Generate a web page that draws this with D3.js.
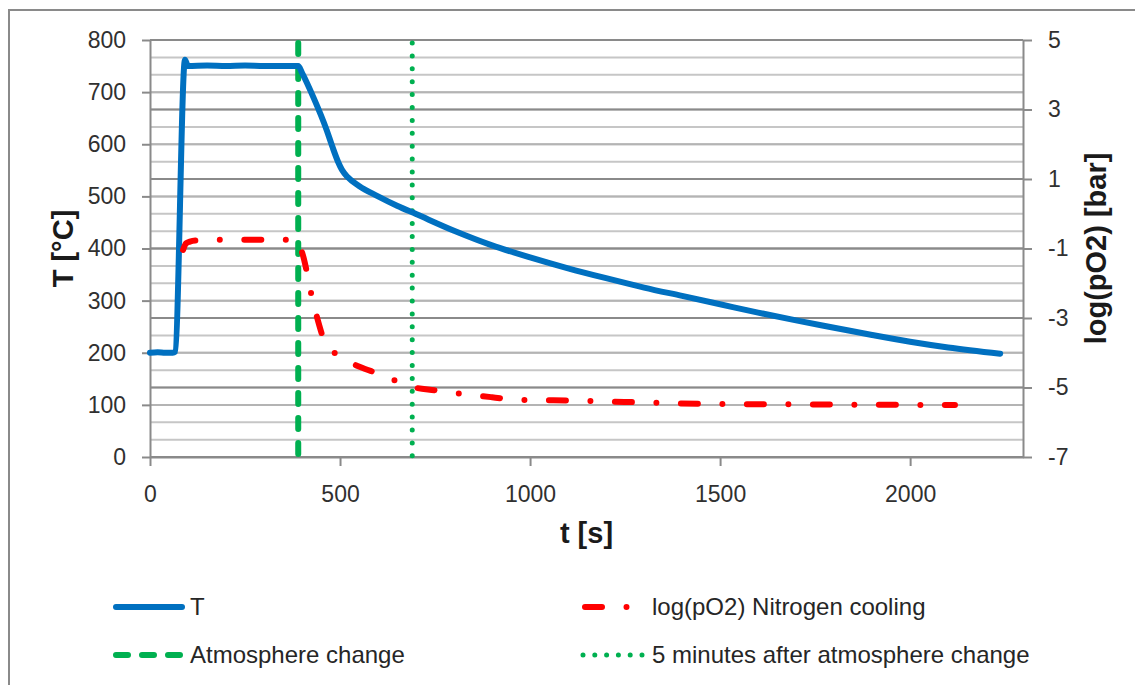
<!DOCTYPE html>
<html lang="en">
<head>
<meta charset="UTF-8">
<title>T and log(pO2) vs time</title>
<script src="https://d3js.org/d3.v7.min.js"></script>
<style>
    body { margin: 0; background: #fff; font-family: "Liberation Sans", Arial, sans-serif; }
    .tick text { fill: #303030; font-size: 23px; }
    .axis-title { font-weight: bold; font-size: 29px; fill: #1a1a1a; }
    .legend-text { font-size: 24px; fill: #262626; }
</style>
</head>
<body>
<div id="chart"></div>
<script>
    // temperature series (time in s, T in °C)
    const tTime = [0, 20, 40, 60, 66, 92, 100, 150, 200, 250, 300, 350, 390, 400, 430, 465, 480, 495, 505, 520, 550, 600, 650, 700, 800, 900, 1000, 1100, 1200, 1300, 1400, 1500, 1600, 1700, 1800, 1900, 2000, 2100, 2237];
    const tValue = [200, 201, 200, 200, 202, 762, 750, 751, 750, 751, 750, 750, 750, 737, 690, 627, 595, 566, 551, 537, 520, 500, 482, 466, 434, 406, 383, 362, 343, 325, 309, 293, 277, 262, 248, 234, 221, 210, 198];

    // log(pO2) series (time in s, log bar)
    const pTime = [87, 95, 105, 120, 200, 300, 385, 395, 405, 415, 426, 440, 460, 480, 500, 553, 600, 636, 692, 750, 803, 900, 974, 1061, 1200, 1300, 1447, 1600, 1800, 2000, 2118];
    const pValue = [-1.04, -0.85, -0.8, -0.77, -0.75, -0.75, -0.75, -0.95, -1.3, -1.8, -2.4, -3.0, -3.69, -3.95, -4.12, -4.41, -4.6, -4.76, -4.99, -5.08, -5.16, -5.28, -5.36, -5.37, -5.4, -5.43, -5.47, -5.48, -5.49, -5.5, -5.5];

    // vertical markers
    const atmosphereChange = 390;
    const fiveMinutesAfter = 690;

    const xTicks = [0, 500, 1000, 1500, 2000];
    const leftTicks = [0, 100, 200, 300, 400, 500, 600, 700, 800];
    const rightTicks = [-7, -5, -3, -1, 1, 3, 5];

    const legendItems = [
        { label: "T", key: "T" },
        { label: "log(pO2) Nitrogen cooling", key: "p" },
        { label: "Atmosphere change", key: "a" },
        { label: "5 minutes after atmosphere change", key: "f" }
    ];

    const width = 1135, height = 685;
    const plotLeft = 150, plotRight = 1023, plotTop = 40, plotBottom = 457;

    const blue = "#0070C0", red = "#FF0000", green = "#00B050";
    const lightGrid = "#c6c6c6", darkGrid = "#8a8a8a";

    const svg = d3.select("#chart").append("svg")
        .attr("width", width)
        .attr("height", height);

    // outer chart border
    svg.append("rect")
        .attr("x", 9).attr("y", 10)
        .attr("width", 1140).attr("height", 700)
        .attr("fill", "#fff")
        .attr("stroke", "#8a8a8a")
        .attr("stroke-width", 2);

    const x = d3.scaleLinear().domain([0, 2297]).range([plotLeft, plotRight]);
    const yL = d3.scaleLinear().domain([0, 800]).range([plotBottom, plotTop]);
    const yR = d3.scaleLinear().domain([-7, 5]).range([plotBottom, plotTop]);

    // gridlines: secondary minor (0.5), primary major (100), secondary major (2)
    const minorR = d3.range(-7, 5.01, 0.5);
    svg.append("g").selectAll("line").data(minorR).join("line")
        .attr("x1", plotLeft).attr("x2", plotRight)
        .attr("y1", d => yR(d)).attr("y2", d => yR(d))
        .attr("stroke", lightGrid).attr("stroke-width", 2);
    svg.append("g").selectAll("line").data(leftTicks).join("line")
        .attr("x1", plotLeft).attr("x2", plotRight)
        .attr("y1", d => yL(d)).attr("y2", d => yL(d))
        .attr("stroke", "#b4b4b4").attr("stroke-width", 2);
    svg.append("g").selectAll("line").data(rightTicks).join("line")
        .attr("x1", plotLeft).attr("x2", plotRight)
        .attr("y1", d => yR(d)).attr("y2", d => yR(d))
        .attr("stroke", darkGrid).attr("stroke-width", 2);

    // axes
    const plain = d => String(d);
    function styleAxis(g) {
        g.select(".domain").attr("stroke", darkGrid).attr("stroke-width", 2);
        g.selectAll(".tick line").attr("stroke", darkGrid).attr("stroke-width", 2);
        g.selectAll(".tick text").attr("font-family", "Liberation Sans, Arial, sans-serif");
    }

    svg.append("g")
        .attr("transform", `translate(${plotLeft},0)`)
        .call(d3.axisLeft(yL).tickValues(leftTicks).tickFormat(plain).tickSize(8).tickSizeOuter(0).tickPadding(16))
        .call(styleAxis);

    svg.append("g")
        .attr("transform", `translate(${plotRight},0)`)
        .call(d3.axisRight(yR).tickValues(rightTicks).tickFormat(plain).tickSize(9).tickSizeOuter(0).tickPadding(16))
        .call(styleAxis);

    svg.append("g")
        .attr("transform", `translate(0,${plotBottom})`)
        .call(d3.axisBottom(x).tickValues(xTicks).tickFormat(plain).tickSize(9).tickSizeOuter(0).tickPadding(20))
        .call(styleAxis);

    // axis titles
    svg.append("text").attr("class", "axis-title")
        .attr("transform", `translate(73,${(plotTop + plotBottom) / 2}) rotate(-90)`)
        .attr("text-anchor", "middle")
        .text("T [°C]");

    svg.append("text").attr("class", "axis-title")
        .attr("transform", `translate(1106,${(plotTop + plotBottom) / 2}) rotate(-90)`)
        .attr("text-anchor", "middle")
        .text("log(pO2) [bar]");

    svg.append("text").attr("class", "axis-title")
        .attr("x", (plotLeft + plotRight) / 2).attr("y", 543)
        .attr("text-anchor", "middle")
        .text("t [s]");

    // vertical markers
    svg.append("line")
        .attr("x1", x(atmosphereChange)).attr("x2", x(atmosphereChange))
        .attr("y1", plotTop + 3).attr("y2", plotBottom)
        .attr("stroke", green).attr("stroke-width", 6)
        .attr("stroke-linecap", "round")
        .attr("stroke-dasharray", "11,14");

    svg.append("line")
        .attr("x1", x(fiveMinutesAfter)).attr("x2", x(fiveMinutesAfter))
        .attr("y1", plotTop + 3).attr("y2", plotBottom)
        .attr("stroke", green).attr("stroke-width", 5)
        .attr("stroke-linecap", "round")
        .attr("stroke-dasharray", "0,12.9");

    // series
    const tData = tTime.map((t, i) => [t, tValue[i]]);
    const pData = pTime.map((t, i) => [t, pValue[i]]);

    svg.append("path")
        .datum(tData)
        .attr("fill", "none")
        .attr("stroke", blue).attr("stroke-width", 6)
        .attr("stroke-linejoin", "round").attr("stroke-linecap", "round")
        .attr("d", d3.line().x(d => x(d[0])).y(d => yL(d[1])).curve(d3.curveMonotoneX));

    svg.append("path")
        .datum(pData)
        .attr("fill", "none")
        .attr("stroke", red).attr("stroke-width", 6)
        .attr("stroke-linejoin", "round").attr("stroke-linecap", "round")
        .attr("stroke-dasharray", "17,24.5,0,24.5")
        .attr("d", d3.line().x(d => x(d[0])).y(d => yR(d[1])).curve(d3.curveMonotoneX));

    // legend
    const legendPos = {
        T: { x: 116, y: 607, x2: 182 },
        p: { x: 585, y: 607, x2: 645 },
        a: { x: 116, y: 655, x2: 180 },
        f: { x: 583, y: 655, x2: 643 }
    };
    const legendStyle = {
        T: { color: blue, w: 6, dash: null },
        p: { color: red, w: 6, dash: "17,24.5,0,24.5" },
        a: { color: green, w: 6, dash: "12,14" },
        f: { color: green, w: 5, dash: "0,11.8" }
    };

    const legend = svg.append("g");
    legendItems.forEach(item => {
        const p = legendPos[item.key], s = legendStyle[item.key];
        legend.append("line")
            .attr("x1", p.x).attr("x2", p.x2)
            .attr("y1", p.y).attr("y2", p.y)
            .attr("stroke", s.color).attr("stroke-width", s.w)
            .attr("stroke-linecap", "round")
            .attr("stroke-dasharray", s.dash);
        legend.append("text")
            .attr("class", "legend-text")
            .attr("x", item.key === "T" || item.key === "a" ? 190 : 652)
            .attr("y", p.y)
            .attr("dy", "0.35em")
            .text(item.label);
    });
</script>
</body>
</html>
